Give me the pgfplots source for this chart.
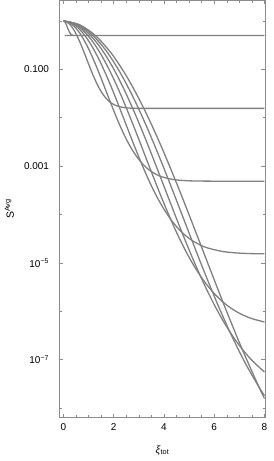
\documentclass[border=0pt]{standalone}
\usepackage{fontspec}
\setmainfont{Liberation Sans}
\usepackage{pgfplots}
\pgfplotsset{compat=1.18}
\definecolor{frm}{RGB}{140,140,140}
\definecolor{crv}{RGB}{128,128,128}
\pgfplotsset{crvstyle/.style={color=crv, line width=1.3bp, smooth, mark=none}}
\begin{document}
\begin{tikzpicture}
\begin{axis}[
  at={(0,0)}, anchor=south west,
  scale only axis, width=206bp, height=417.5bp,
  xmin=-0.16, xmax=8.04,
  ymode=log, ymin=6.35e-9, ymax=2.72,
  axis line style={frm, line width=0.8bp},
  every tick/.style={frm, line width=0.6bp},
  tick align=inside,
  major tick length=4bp, minor tick length=2.5bp,
  xtick={0,2,4,6,8}, xticklabels={0,2,4,6,8},
  minor xtick={0.5,1,1.5,2.5,3,3.5,4.5,5,5.5,6.5,7,7.5},
  ytick={1e-1,1e-3,1e-5,1e-7},
  yticklabels={0.100,0.001,10\textsuperscript{−5},10\textsuperscript{−7}},
  minor ytick={1,1e-2,1e-4,1e-6,1e-8},
  tick label style={font=\fontsize{10}{12}\selectfont, black},
  yticklabel style={xshift=-7bp},
  xticklabel style={yshift=-3bp},
  xlabel={\textit{ξ}\textsubscript{tot}}, ylabel={S\textsuperscript{Avg}},
  label style={font=\fontsize{10.5}{12}\selectfont},
  xlabel style={at={(axis description cs:0.5,-0.079)}, anchor=center},
  ylabel style={at={(axis description cs:-0.243,0.5)}, anchor=center},
]
% m = 1
\addplot[crvstyle] coordinates {(0,1) (0.0358,0.980395) (0.0716,0.926072) (0.1074,0.848838) (0.1432,0.763646) (0.179,0.68394) (0.2148,0.618464) (0.2506,0.570429) (0.2864,0.538653) (0.3222,0.519582) (0.358,0.509158) (0.4296,0.501576) (0.537,0.500062) (8,0.5)};
% m = 6
\addplot[crvstyle] coordinates {(0,1) (0.1074,0.97052) (0.2148,0.88799) (0.3222,0.76803) (0.4296,0.63076) (0.537,0.49497) (0.6444,0.37406) (0.7518,0.27480) (0.8592,0.19831) (0.9666,0.14216) (1.074,0.102355) (1.1814,0.074798) (1.2888,0.055961) (1.3962,0.043159) (1.5036,0.034451) (1.611,0.028506) (1.7184,0.024426) (1.8258,0.021615) (1.9332,0.019675) (2.0406,0.018339) (2.148,0.017422) (2.3628,0.016381) (2.5776,0.015923) (2.7924,0.015734) (3.222,0.015637) (8,0.015625)};
% m = 11
\addplot[crvstyle] coordinates {(0,1) (0.1969,0.94662) (0.3938,0.80429) (0.5907,0.61639) (0.7876,0.42962) (0.9845,0.27547) (1.1814,0.16484) (1.3783,0.093655) (1.5752,0.051501) (1.7721,0.027973) (1.969,0.015318) (2.1659,0.0086181) (2.3628,0.0050635) (2.5597,0.0031451) (2.7566,0.0020807) (2.9535,0.0014702) (3.1504,0.0011076) (3.3473,8.8524e-4) (3.5442,7.4505e-4) (3.7411,6.5489e-4) (3.938,5.9616e-4) (4.3318,5.3244e-4) (4.7256,5.0545e-4) (5.1194,4.9455e-4) (5.907,4.8894e-4) (8,4.8828e-4)};
% m = 16
\addplot[crvstyle] coordinates {(0,1) (0.2864,0.92330) (0.5728,0.72848) (0.8592,0.49469) (1.1456,0.29262) (1.432,0.15330) (1.7184,0.072641) (2.0048,0.031919) (2.2912,0.013374) (2.5776,0.0055045) (2.864,0.0022924) (3.1504,9.9303e-4) (3.4368,4.5817e-4) (3.7232,2.2919e-4) (4.0096,1.2567e-4) (4.296,7.5830e-5) (4.5824,5.0226e-5) (4.8688,3.6254e-5) (5.1552,2.8213e-5) (5.4416,2.3387e-5) (5.728,2.0399e-5) (6.3008,1.7306e-5) (6.8736,1.6045e-5) (7.4464,1.5545e-5) (8,1.5359e-5)};
% m = 21
\addplot[crvstyle] coordinates {(0,1) (0.3759,0.90056) (0.7518,0.65981) (1.1277,0.39702) (1.5036,0.19931) (1.8795,0.085317) (2.2554,0.032011) (2.6313,0.010878) (3.0072,0.0034732) (3.3831,0.0010832) (3.759,3.4307e-4) (4.1349,1.1442e-4) (4.5108,4.1457e-5) (4.8867,1.6701e-5) (5.2626,7.5896e-6) (5.6385,3.9110e-6) (6.0144,2.2776e-6) (6.3903,1.4848e-6) (6.7662,1.0684e-6) (7.1421,8.3518e-7) (7.518,6.9803e-7) (8,5.9734e-7)};
% m = 26
\addplot[crvstyle] coordinates {(0,1) (0.4654,0.87839) (0.9308,0.59762) (1.3962,0.31864) (1.8616,0.13575) (2.327,0.047481) (2.7924,0.014107) (3.2578,0.0037075) (3.7232,9.0197e-4) (4.1886,2.1314e-4) (4.654,5.1341e-5) (5.1194,1.3184e-5) (5.5848,3.7511e-6) (6.0502,1.2171e-6) (6.5156,4.5838e-7) (6.981,2.0172e-7) (7.4464,1.0328e-7) (7.9118,6.0808e-8) (8,5.5795e-8)};
% m = 31
\addplot[crvstyle] coordinates {(0,1) (0.5549,0.85675) (1.1098,0.54129) (1.6647,0.25573) (2.2196,0.092462) (2.7745,0.026425) (3.3294,0.0062165) (3.8843,0.0012636) (4.4392,2.3424e-4) (4.9941,4.1942e-5) (5.549,7.6835e-6) (6.1039,1.5192e-6) (6.6588,3.3942e-7) (7.2137,8.8689e-8) (7.7686,2.7684e-8) (8,1.7996e-8)};
% m = 36
\addplot[crvstyle] coordinates {(0,1) (0.6444,0.83565) (1.2888,0.49027) (1.9332,0.20524) (2.5776,0.062977) (3.222,0.014706) (3.8664,0.0027395) (4.5108,4.3063e-4) (5.1552,6.0829e-5) (5.7996,8.2532e-6) (6.444,1.1499e-6) (7.0884,1.7505e-7) (7.7328,3.0712e-8) (8,1.5713e-8)};
\end{axis}
\pgfresetboundingbox
\useasboundingbox (-59.5bp,-43.5bp) rectangle (214.5bp,417.5bp);
\end{tikzpicture}
\end{document}
